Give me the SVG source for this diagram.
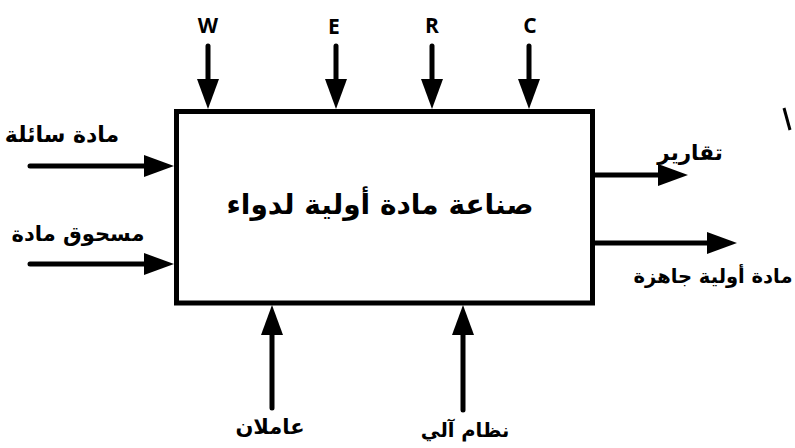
<svg xmlns="http://www.w3.org/2000/svg" width="795" height="448" viewBox="0 0 795 448">
<defs>
<marker id="ah" markerUnits="userSpaceOnUse" markerWidth="30" markerHeight="22" refX="10" refY="11" orient="auto" viewBox="0 0 30 22">
<path d="M0,0 L30,11 L0,22 z" fill="#000"/>
</marker>
</defs>
<style>
.c{stroke:#000;stroke-width:5;fill:none;stroke-linecap:round;marker-end:url(#ah)}
.lat{font-family:"Open Sans","Liberation Sans",sans-serif;font-weight:bold;font-size:21px;fill:#000;text-anchor:middle}
.ar{font-family:"DejaVu Sans","Noto Sans",sans-serif;font-weight:bold;font-size:21px;fill:#000;text-anchor:middle}
</style>
<rect width="795" height="448" fill="#fff"/>
<g id="process">
<rect x="176.5" y="111.5" width="416" height="191.5" fill="#fff" stroke="#000" stroke-width="5"/>
<text class="ar" x="380" y="214" style="font-size:28px" direction="rtl">صناعة مادة أولية لدواء</text>
</g>
<g id="connectors">
<path class="c" d="M208,46 V89"/>
<path class="c" d="M336,46 V89"/>
<path class="c" d="M432,46 V89"/>
<path class="c" d="M529,46 V89"/>
<path class="c" d="M30,166 H154"/>
<path class="c" d="M30,264 H154"/>
<path class="c" d="M595,175 H668"/>
<path class="c" d="M595,243 H717"/>
<path class="c" d="M272,408 V325"/>
<path class="c" d="M463,410 V325"/>
</g>
<g id="label-W"><text class="lat" x="208" y="33">W</text></g>
<g id="label-E"><text class="lat" x="334" y="34">E</text></g>
<g id="label-R"><text class="lat" x="432" y="33">R</text></g>
<g id="label-C"><text class="lat" x="530" y="33">C</text></g>
<g id="label-liquid"><text class="ar" x="62" y="142" style="font-size:22px" direction="rtl">مادة سائلة</text></g>
<g id="label-powder"><text class="ar" x="78" y="241" direction="rtl">مسحوق مادة</text></g>
<g id="label-reports"><text class="ar" x="690" y="160" style="font-size:21.5px" direction="rtl">تقارير</text></g>
<g id="label-ready"><text class="ar" x="713" y="283" style="font-size:19.5px" direction="rtl">مادة أولية جاهزة</text></g>
<g id="label-workers"><text class="ar" x="270" y="434" direction="rtl">عاملان</text></g>
<g id="label-auto"><text class="ar" x="465" y="437" style="font-size:19.5px" direction="rtl">نظام آلي</text></g>
<path d="M784,108 L790,130" stroke="#000" stroke-width="3"/>
</svg>
